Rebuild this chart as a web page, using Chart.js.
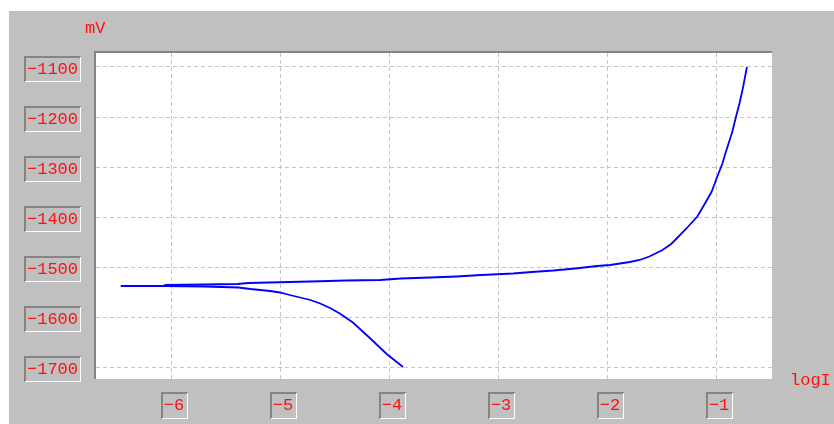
<!DOCTYPE html>
<html>
<head>
<meta charset="utf-8">
<script src="https://cdn.jsdelivr.net/npm/chart.js@4/dist/chart.umd.min.js"></script>
<style>
  html, body { margin: 0; padding: 0; background: #ffffff; }
  #wrap { width: 834px; height: 424px; }
</style>
</head>
<body>
<div id="wrap"><canvas id="c" width="834" height="424"></canvas></div>
<script>
// Polarization scan: potential (mV) against log of current density.
// Cathodic branch, from the corrosion potential down to -1700 mV.
const cathodicLogI = [-6.47, -6.07, -5.70, -5.39, -5.28, -5.10, -5.01, -4.92, -4.73, -4.64, -4.55, -4.46, -4.34, -4.18, -4.03, -3.88];
const cathodicMV   = [-1538, -1538, -1539, -1541, -1544, -1548, -1551, -1556, -1566, -1573, -1582, -1593, -1611, -1643, -1674, -1700];

// Anodic branch, from the corrosion potential up to -1100 mV.
const anodicLogI = [-6.07, -5.70, -5.40, -5.30, -4.73, -4.40, -4.09, -3.90, -3.63, -3.39, -3.16, -2.87, -2.70, -2.50, -2.30, -2.10, -1.98, -1.80, -1.71, -1.62, -1.50, -1.42, -1.37, -1.28, -1.18, -1.11, -1.05, -1.00, -0.95, -0.92, -0.86, -0.82, -0.79, -0.76, -0.725];
const anodicMV   = [-1536, -1535, -1534, -1532, -1529, -1527, -1526, -1523, -1521, -1519, -1516, -1513, -1510, -1507, -1503, -1498, -1496, -1490, -1486, -1479, -1466, -1454, -1443, -1423, -1399, -1373, -1350, -1321, -1293, -1271, -1230, -1195, -1170, -1140, -1100];

// Axis ranges and labels
const xRange = [-6.697, -0.495];
const yRange = [-1724, -1072];
const xStep = 1;
const yStep = 100;
const xTitle = 'logI';
const yTitle = 'mV';

const toPoints = (xs, ys) => xs.map((x, i) => ({ x: x, y: ys[i] }));
// tick text with a true minus sign
const fmtTick = v => (v < 0 ? '\u2212' : '') + String(Math.abs(v));

const PANEL = '#c0c0c0';
const DARK = '#848484';
const LIGHT = '#ffffff';
const LABEL_RED = '#ff1010';
const MONO = '"Liberation Mono", "DejaVu Sans Mono", monospace';

function bevelBox(ctx, x, y, w, h) {
  ctx.save();
  ctx.fillStyle = PANEL;
  ctx.fillRect(x, y, w, h);
  ctx.fillStyle = DARK;
  ctx.fillRect(x, y, w, 2);
  ctx.fillRect(x, y, 2, h);
  ctx.fillStyle = LIGHT;
  ctx.fillRect(x + 1, y + h - 1, w - 1, 1);
  ctx.fillRect(x + w - 1, y + 1, 1, h - 1);
  ctx.restore();
}

// Grey window panel, sunken plot well and bevelled tick-label boxes
const panelPlugin = {
  id: 'panel',
  beforeDraw(chart) {
    const ctx = chart.ctx;
    const a = chart.chartArea;
    ctx.save();
    ctx.fillStyle = '#ffffff';
    ctx.fillRect(0, 0, chart.width, chart.height);
    ctx.fillStyle = PANEL;
    ctx.fillRect(9, 11, chart.width - 9, chart.height - 11);
    ctx.fillStyle = '#ffffff';
    ctx.fillRect(a.left, a.top, a.right - a.left, a.bottom - a.top);
    ctx.fillStyle = DARK;
    ctx.fillRect(a.left - 2, a.top - 2, a.right - a.left + 2, 2);
    ctx.fillRect(a.left - 2, a.top - 2, 2, a.bottom - a.top + 2);
    ctx.restore();

    const ys = chart.scales.y;
    ys.ticks.forEach(t => {
      const cy = ys.getPixelForValue(t.value) + 2;
      bevelBox(ctx, 24, Math.round(cy - 13), 57, 26);
    });
    const xs = chart.scales.x;
    xs.ticks.forEach(t => {
      const cx = xs.getPixelForValue(t.value) + 2.5;
      bevelBox(ctx, Math.round(cx - 13.5), 392, 27, 27);
    });
  },
  afterDraw(chart) {
    const ctx = chart.ctx;
    ctx.save();
    ctx.fillStyle = LABEL_RED;
    ctx.font = '17px ' + MONO;
    ctx.textBaseline = 'middle';
    ctx.textAlign = 'left';
    ctx.fillText(yTitle, 85, 28);
    ctx.fillText(xTitle, 790, 380);
    ctx.restore();
  }
};

const lineStyle = {
  showLine: true,
  borderColor: '#0000ff',
  backgroundColor: '#0000ff',
  borderWidth: 1.8,
  pointRadius: 0,
  pointHoverRadius: 0,
  fill: false,
  tension: 0
};

new Chart(document.getElementById('c'), {
  type: 'scatter',
  data: {
    datasets: [
      Object.assign({ label: 'cathodic', data: toPoints(cathodicLogI, cathodicMV) }, lineStyle),
      Object.assign({ label: 'anodic', data: toPoints(anodicLogI, anodicMV) }, lineStyle)
    ]
  },
  options: {
    responsive: false,
    animation: false,
    devicePixelRatio: 1,
    layout: { padding: { left: 0, top: 53, right: 62, bottom: 0 } },
    plugins: {
      legend: { display: false },
      tooltip: { enabled: false },
      title: { display: false }
    },
    scales: {
      x: {
        type: 'linear',
        min: xRange[0],
        max: xRange[1],
        afterFit(s) { s.height = 45; },
        grid: { color: '#c4c4c4', lineWidth: 1, drawTicks: false },
        border: { display: false, dash: [4, 3] },
        ticks: {
          stepSize: xStep,
          includeBounds: false,
          color: LABEL_RED,
          font: { family: MONO, size: 17, lineHeight: 1 },
          padding: 18,
          labelOffset: 2,
          maxRotation: 0,
          autoSkip: false,
          callback: fmtTick
        }
      },
      y: {
        type: 'linear',
        min: yRange[0],
        max: yRange[1],
        afterFit(s) { s.width = 96; },
        grid: { color: '#c4c4c4', lineWidth: 1, drawTicks: false },
        border: { display: false, dash: [4, 3] },
        ticks: {
          stepSize: yStep,
          includeBounds: false,
          color: LABEL_RED,
          font: { family: MONO, size: 17, lineHeight: 1 },
          padding: 18,
          labelOffset: 2,
          autoSkip: false,
          callback: fmtTick
        }
      }
    }
  },
  plugins: [panelPlugin]
});
</script>
</body>
</html>
